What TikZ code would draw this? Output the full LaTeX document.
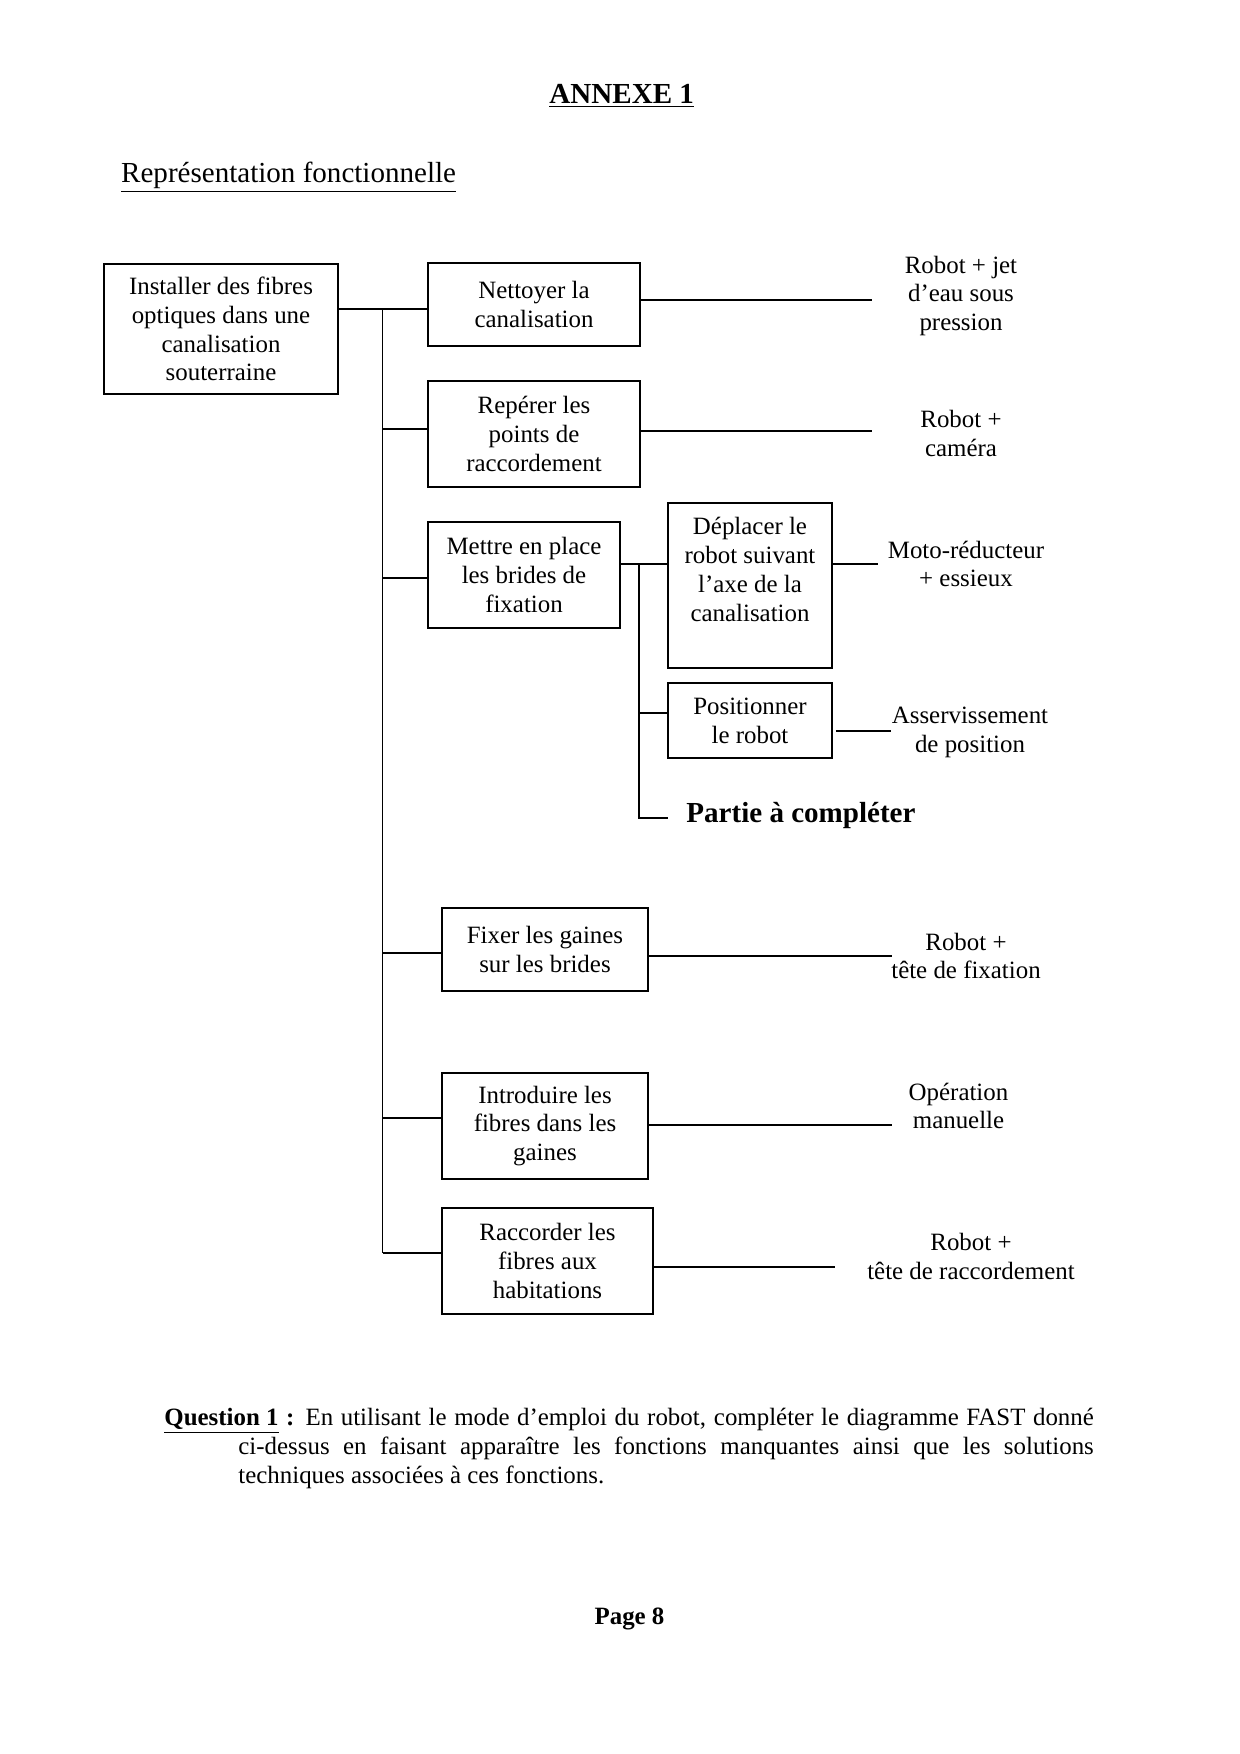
\documentclass[tikz,border=0pt]{standalone}
\usepackage{fontspec}
\setmainfont{Liberation Serif}
\usetikzlibrary{calc}
\tikzset{
  fbox/.style={draw, line width=0.9pt, align=center, inner sep=0pt, font=\fontsize{12}{13.9}\selectfont},
  bx/.style 2 args={minimum width=#1*0.16935mm, minimum height=#2*0.16935mm},
  soltext/.style={align=center, inner sep=0pt, font=\fontsize{12}{13.9}\selectfont},
  ln/.style={line width=0.8pt},
}
\begin{document}
\begin{tikzpicture}[x=0.16935mm, y=-0.16935mm]
\useasboundingbox[fill=white] (0,0) rectangle (1240,1754);

% headings
\node[inner sep=0pt, font=\fontsize{14}{16}\selectfont\bfseries] (title) at (621.7,95.5) {\underline{ANNEXE 1}};
\node[inner sep=0pt, anchor=west, font=\fontsize{14}{16}\selectfont] (subt) at (120.8,177.5) {\underline{Représentation fonctionnelle}};

% function boxes
\node[fbox, bx={234}{130}] (main) at (221,329) {Installer des fibres\\optiques dans une\\canalisation\\souterraine};
\node[fbox, bx={212}{83}] (nett) at (534,304.5) {Nettoyer la\\canalisation};
\node[fbox, bx={212}{106}] (rep) at (534,434) {Repérer les\\points de\\raccordement};
\node[fbox, bx={192}{106}] (met) at (524,575) {Mettre en place\\les brides de\\fixation};
\node[fbox, bx={164}{165}] (dep) at (750,585.5) {};
\node[soltext] (deptxt) at (750,569.5) {Déplacer le\\robot suivant\\l’axe de la\\canalisation};
\node[fbox, bx={164}{75}] (pos) at (750,720.5) {Positionner\\le robot};
\node[inner sep=0pt, anchor=west, font=\fontsize{14}{16}\selectfont\bfseries] (partie) at (686,815) {Partie à compléter};
\node[fbox, bx={206}{83}] (fix) at (545,949.5) {Fixer les gaines\\sur les brides};
\node[fbox, bx={206}{106}] (intro) at (545,1126) {Introduire les\\fibres dans les\\gaines};
\node[fbox, bx={211}{106}] (racc) at (547.5,1261) {Raccorder les\\fibres aux\\habitations};

% solutions
\node[soltext] (s1) at (961,296) {Robot + jet\\d’eau sous\\pression};
\node[soltext] (s2) at (961,433.5) {Robot +\\caméra};
\node[soltext] (s3) at (966,564) {Moto-réducteur\\+ essieux};
\node[soltext] (s4) at (970,732) {Asservissement\\de position};
\node[soltext] (s6) at (966,956) {Robot +\\tête de fixation};
\node[soltext] (s7) at (958.5,1106) {Opération\\manuelle};
\node[soltext] (s8) at (971,1256.5) {Robot +\\tête de raccordement};

% main bus
\coordinate (cNett) at ($(nett.west)+(0,4.5)$);
\coordinate (mainR) at (main.east |- cNett);
\path (cNett) ++(-44.5,0) coordinate (busTop);
\coordinate (cRep) at ($(rep.west)+(0,-5)$);
\coordinate (cMet) at ($(met.west)+(0,3)$);
\coordinate (cFix) at ($(fix.west)+(0,3.5)$);
\coordinate (cIntro) at ($(intro.west)+(0,-8)$);
\coordinate (cRacc) at ($(racc.west)+(0,-8)$);
\draw[ln] (mainR) -- (cNett);
\draw[ln] (busTop) -- (busTop |- cRacc);
\draw[ln] (busTop |- cRep) -- (cRep);
\draw[ln] (busTop |- cMet) -- (cMet);
\draw[ln] (busTop |- cFix) -- (cFix);
\draw[ln] (busTop |- cIntro) -- (cIntro);
\draw[ln] (busTop |- cRacc) -- (cRacc);

% sub bus
\coordinate (mR) at ($(met.east)+(0,-11)$);
\coordinate (subTop) at ($(mR)+(18,0)$);
\coordinate (cPos) at ($(pos.west)+(0,-7.5)$);
\coordinate (pe) at ($(partie.west)+(-18,3)$);
\draw[ln] (mR) -- (mR -| dep.west);
\draw[ln] (subTop) -- (subTop |- pe) -- (pe);
\draw[ln] (subTop |- cPos) -- (cPos);

% solution connectors
\coordinate (e1) at (872,300);
\coordinate (e3) at (878,564);
\coordinate (e4) at (891,731);
\coordinate (e6) at (892,956);
\coordinate (e8) at (834.5,1267);
\coordinate (n1) at ($(nett.east)+(0,-4.5)$);
\coordinate (n2) at ($(rep.east)+(0,-3)$);
\coordinate (n3) at ($(dep.east)+(0,-21.5)$);
\coordinate (n4) at ($(pos.east)+(3,10.5)$);
\coordinate (n6) at ($(fix.east)+(0,6.5)$);
\coordinate (n7) at ($(intro.east)+(0,-1)$);
\coordinate (n8) at ($(racc.east)+(0,6)$);
\draw[ln] (n1) -- (n1 -| e1);
\draw[ln] (n2) -- (n2 -| e1);
\draw[ln] (n3) -- (n3 -| e3);
\draw[ln] (n4) -- (n4 -| e4);
\draw[ln] (n6) -- (n6 -| e6);
\draw[ln] (n7) -- (n7 -| e6);
\draw[ln] (n8) -- (n8 -| e8);

% question
\node[anchor=north west, inner sep=0pt, text width=157.4mm, align=justify, font=\fontsize{12}{13.97}\selectfont] (q) at (164,1407.5)
{\parindent=0pt\hangindent=12.53mm\hangafter=1 \textbf{\underline{Question 1} :} En utilisant le mode d’emploi du robot, compléter le diagramme FAST donné\linebreak ci-dessus en faisant apparaître les fonctions manquantes ainsi que les solutions\linebreak techniques associées à ces fonctions.\par};

\node[inner sep=0pt, font=\fontsize{12}{14}\selectfont\bfseries] (page) at (629.5,1619) {Page 8};
\end{tikzpicture}
\end{document}
